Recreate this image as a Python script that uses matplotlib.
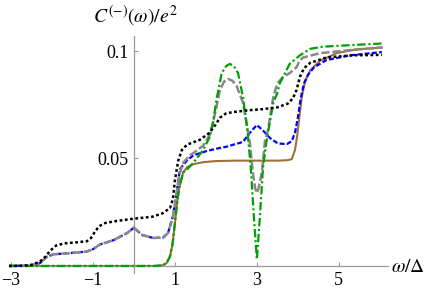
import matplotlib
matplotlib.use("Agg")
import matplotlib.pyplot as plt

# --- data (omega / Delta, C / e^2) ---
w_brown = [-3.05, 0.5, 0.7, 0.8, 0.88, 0.94, 1.0, 1.05, 1.1, 1.2, 1.3, 1.45, 1.7,
           2.0, 2.5, 3.0, 3.5, 3.75, 3.85, 3.93, 3.98, 4.04, 4.1, 4.18, 4.3,
           4.54, 4.95, 5.43, 6.05]
c_brown = [0, 0, 0.0003, 0.0014, 0.0045, 0.010, 0.020, 0.029, 0.036, 0.0435,
           0.046, 0.0474, 0.0483, 0.0488, 0.049, 0.049, 0.049, 0.0492, 0.0497,
           0.054, 0.060, 0.070, 0.079, 0.086, 0.091, 0.0955, 0.099, 0.1008, 0.1016]

w_blue = [-3.05, -2.6, -2.4, -2.29, -2.2, -2.12, -1.97, -1.56, -1.15, -1.0, -0.83,
          -0.5, -0.17, 0.0, 0.2, 0.47, 0.71, 0.83, 0.95, 1.02, 1.12, 1.29, 1.45,
          1.78, 2.0, 2.26, 2.66, 2.83, 3.0, 3.15, 3.32, 3.51, 3.73, 3.85, 3.93,
          4.0, 4.07, 4.15, 4.25, 4.4, 4.7, 5.27, 6.05]
c_blue = [0, 0.0002, 0.0007, 0.0014, 0.003, 0.0043, 0.0054, 0.006, 0.0067, 0.0078,
          0.010, 0.012, 0.0153, 0.0178, 0.0144, 0.013, 0.0132, 0.0153, 0.023, 0.031,
          0.045, 0.049, 0.0515, 0.0535, 0.0545, 0.0555, 0.0577, 0.062, 0.0656,
          0.063, 0.0595, 0.057, 0.0567, 0.058, 0.062, 0.069, 0.078, 0.085, 0.089,
          0.0925, 0.0958, 0.098, 0.0995]

w_gray = [-3.05, -2.6, -2.4, -2.29, -2.2, -2.12, -1.97, -1.56, -1.15, -1.0, -0.83,
          -0.5, -0.17, 0.0, 0.2, 0.47, 0.71, 0.83, 0.95, 1.02, 1.1, 1.2, 1.37, 1.45,
          1.69, 1.85, 1.98, 2.1, 2.2, 2.3, 2.4, 2.5, 2.66, 2.76, 2.83, 2.9, 2.96,
          3.0, 3.04, 3.12, 3.2, 3.27, 3.4, 3.5, 3.64, 3.8, 3.97, 4.05, 4.13, 4.54,
          5.27, 6.05]
c_gray = [0, 0.0002, 0.0007, 0.0014, 0.003, 0.0043, 0.0054, 0.006, 0.0067, 0.0078,
          0.010, 0.012, 0.0153, 0.0178, 0.0144, 0.013, 0.0132, 0.0153, 0.023, 0.031,
          0.042, 0.048, 0.0516, 0.0525, 0.056, 0.061, 0.071, 0.082, 0.0858, 0.087,
          0.0862, 0.084, 0.076, 0.065, 0.057, 0.0435, 0.036, 0.034, 0.036, 0.0435,
          0.0586, 0.063, 0.0786, 0.085, 0.088, 0.0897, 0.0925, 0.0958, 0.097, 0.099,
          0.1004, 0.1017]

w_green = [-3.05, 0.5, 0.7, 0.8, 0.88, 0.94, 1.0, 1.05, 1.1, 1.2, 1.3, 1.45, 1.69,
           1.85, 1.93, 2.01, 2.14, 2.25, 2.34, 2.44, 2.54, 2.66, 2.76, 2.85, 2.93,
           3.0, 3.07, 3.15, 3.24, 3.4, 3.49, 3.56, 3.8, 4.05, 4.13, 4.3, 4.6, 5.35,
           6.05]
c_green = [0, 0, 0.0003, 0.0014, 0.0045, 0.010, 0.020, 0.029, 0.036, 0.0435, 0.045,
           0.048, 0.054, 0.060, 0.0665, 0.077, 0.0897, 0.093, 0.094, 0.093, 0.0897,
           0.0786, 0.0647, 0.046, 0.022, 0.003, 0.022, 0.046, 0.0586, 0.076, 0.080,
           0.085, 0.094, 0.098, 0.099, 0.101, 0.102, 0.1028, 0.1035]

w_black = [-3.05, -2.7, -2.5, -2.3, -2.15, -2.05, -1.9, -1.7, -1.4, -1.15, -1.05,
           -0.95, -0.85, -0.7, -0.4, 0.0, 0.45, 0.7, 0.88, 0.95, 1.0, 1.08, 1.17,
           1.3, 1.6, 1.85, 2.0, 2.1, 2.25, 2.42, 2.83, 3.07, 3.5, 3.75, 3.88, 3.97,
           4.05, 4.15, 4.3, 4.7, 5.35, 6.05]
c_black = [0, 0.0001, 0.0005, 0.002, 0.0045, 0.007, 0.0095, 0.0105, 0.011, 0.0115,
           0.013, 0.016, 0.0185, 0.020, 0.021, 0.022, 0.0229, 0.0245, 0.027, 0.031,
           0.040, 0.049, 0.054, 0.0565, 0.0586, 0.062, 0.066, 0.069, 0.071, 0.0716,
           0.0725, 0.0728, 0.0738, 0.0755, 0.078, 0.082, 0.088, 0.092, 0.0945,
           0.097, 0.098, 0.0982]

x_ticks = [-3, -1, 1, 3, 5]
x_labels = ["\u22123", "\u22121", "1", "3", "5"]
y_ticks = [0.05, 0.1]
y_labels = ["0.05", "0.1"]

plt.rcParams["mathtext.fontset"] = "stix"
plt.rcParams["font.family"] = ["Liberation Serif", "DejaVu Serif"]
plt.rcParams["lines.scale_dashes"] = False

fig = plt.figure(figsize=(4.36, 2.92), dpi=100)
ax = fig.add_axes([9 / 436, 0.0634, 379 / 436, 0.8134])

lw = 1.6
ax.plot(w_brown, c_brown, color="#A0703A", lw=1.5, zorder=2)
ax.plot(w_blue, c_blue, color="#0000FF", lw=lw, dashes=(3.6, 1.6), zorder=3)
ax.plot(w_gray, c_gray, color="#888888", lw=1.8, dashes=(6, 2), zorder=4)
ax.plot(w_green, c_green, color="#00A000", lw=lw, dashes=(6, 2, 1.5, 2), zorder=5)
ax.plot(w_black, c_black, color="black", lw=1.8, dashes=(2, 1.8), zorder=6)

ax.set_xlim(-3.05, 6.2)
ax.set_ylim(-0.0035, 0.107)

for side in ("top", "right"):
    ax.spines[side].set_visible(False)
ax.spines["left"].set_position(("data", 0))
ax.spines["bottom"].set_position(("data", 0))
for side in ("left", "bottom"):
    ax.spines[side].set_color("#999999")
    ax.spines[side].set_linewidth(0.9)

ax.set_xticks(x_ticks)
ax.set_xticklabels(x_labels, family="Liberation Serif")
ax.set_yticks(y_ticks)
ax.set_yticklabels(y_labels, family="Liberation Serif")
ax.tick_params(direction="in", length=3, width=0.8, color="#999999",
               labelsize=13, pad=4)
ax.set_facecolor("none")

fig.text(135 / 436, 1 - 16 / 292, r"$C^{(-)}(\omega)/e^2$", ha="center",
         va="center", fontsize=14)
fig.text(391 / 436, 1 - 268 / 292, r"$\omega/\Delta$", ha="left",
         va="center", fontsize=14)

fig.savefig("out.png", dpi=100, facecolor="white")
